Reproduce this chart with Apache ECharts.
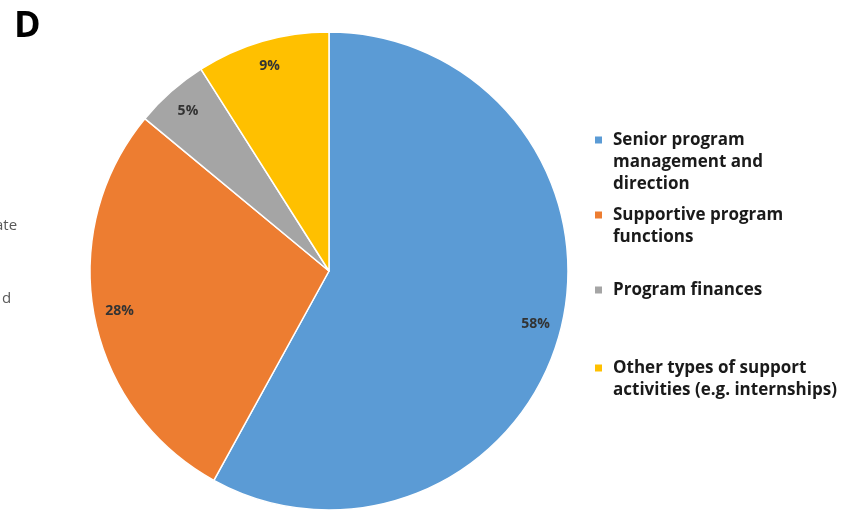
<!DOCTYPE html>
<html>
<head>
<meta charset="utf-8">
<script src="https://cdn.jsdelivr.net/npm/echarts@6/dist/echarts.min.js"></script>
<style>
  html, body { margin: 0; padding: 0; background: #ffffff; }
  #chart { width: 857px; height: 512px; }
</style>
</head>
<body>
<div id="chart"></div>
<script>
// Share of support activity by type (percent)
const categories = [
  'Senior program management and direction',
  'Supportive program functions',
  'Program finances',
  'Other types of support activities (e.g. internships)'
];
const values = [58, 28, 5, 9];
const colors = ['#5B9BD5', '#ED7D31', '#A5A5A5', '#FFC000'];

// Wrapped legend lines for each category
const legendLines = [
  ['Senior program', 'management and', 'direction'],
  ['Supportive program', 'functions'],
  ['Program finances'],
  ['Other types of support', 'activities (e.g. internships)']
];
const legendTops = [129, 204, 279, 357];

const FONT = '"Open Sans", Lato, sans-serif';
const pieRadius = 239;

const data = categories.map((name, i) => ({
  name: name,
  value: values[i],
  itemStyle: { color: colors[i] }
}));

const richStyles = {
  t: { fontFamily: FONT, fontWeight: 'bold', fontSize: 17, color: '#1a1a1a', lineHeight: 22 },
  i: { width: 18, height: 7, lineHeight: 22 },
  s: { width: 11, height: 7, lineHeight: 22 }
};
colors.forEach((c, i) => {
  richStyles['m' + i] = { width: 7, height: 7, backgroundColor: c, lineHeight: 22 };
});

const legends = categories.map((name, i) => ({
  data: [name],
  orient: 'vertical',
  left: 589,
  top: legendTops[i],
  itemWidth: 0,
  itemHeight: 0,
  itemGap: 0,
  padding: [0, 0, 0, 0],
  selectedMode: false,
  formatter: function (n) {
    const idx = categories.indexOf(n);
    return legendLines[idx].map((line, k) =>
      (k === 0 ? '{m' + idx + '|}{s|}' : '{i|}') + '{t|' + line + '}'
    ).join('\n');
  },
  textStyle: { rich: richStyles, lineHeight: 22 }
}));

const chart = echarts.init(document.getElementById('chart'), null, { renderer: 'canvas' });
chart.setOption({
  backgroundColor: '#ffffff',
  animation: false,
  title: {
    text: 'D',
    left: 14,
    top: 9,
    padding: [0, 0, 0, 0],
    textStyle: { fontFamily: FONT, fontWeight: 'bold', fontSize: 36, color: '#000000' }
  },
  legend: legends,
  graphic: [
    { type: 'text', left: -5, top: 218, style: { text: 'ate', font: '15px ' + FONT, fill: '#595959' } },
    { type: 'text', left: 2, top: 291, style: { text: 'd', font: '15px ' + FONT, fill: '#595959' } }
  ],
  series: [
    {
      type: 'pie',
      center: [329, 271],
      radius: [0, pieRadius],
      startAngle: 90,
      clockwise: true,
      avoidLabelOverlap: false,
      itemStyle: { borderColor: '#ffffff', borderWidth: 1.5 },
      label: { show: false },
      labelLine: { show: false },
      emphasis: { disabled: true },
      data: data
    },
    {
      // transparent ring carrying the percentage labels near the outer edge
      type: 'pie',
      center: [329, 271],
      radius: [pieRadius * 0.76, pieRadius],
      startAngle: 90,
      clockwise: true,
      silent: true,
      avoidLabelOverlap: false,
      itemStyle: { color: 'rgba(0,0,0,0)' },
      label: {
        show: true,
        position: 'inside',
        formatter: '{c}%',
        fontFamily: FONT,
        fontWeight: 'bold',
        fontSize: 14,
        color: '#333333'
      },
      labelLine: { show: false },
      emphasis: { disabled: true },
      data: categories.map((name, i) => ({ name: name, value: values[i] }))
    }
  ]
});
</script>
</body>
</html>
